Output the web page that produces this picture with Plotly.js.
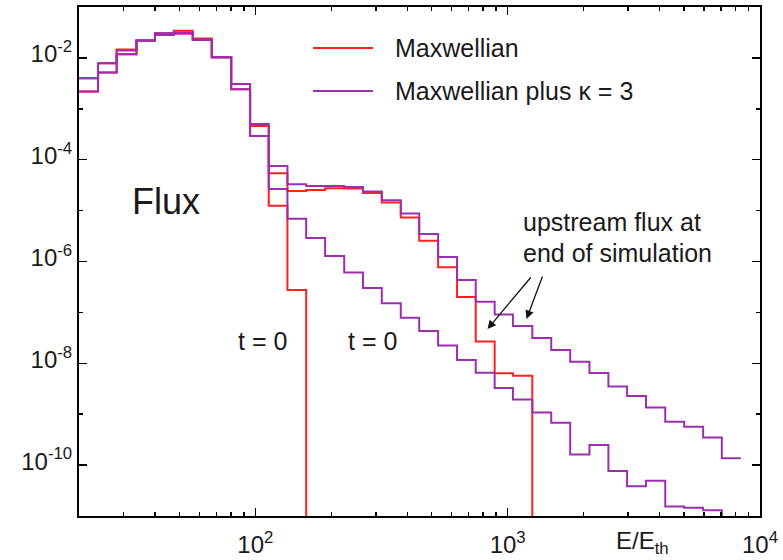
<!DOCTYPE html>
<html>
<head>
<meta charset="utf-8">
<script src="https://cdn.plot.ly/plotly-3.0.1.min.js"></script>
<style>html,body{margin:0;padding:0;background:#fff;}#chart{width:783px;height:560px;}</style>
</head>
<body>
<div id="chart"></div>
<script>
// Energy bin edges (E/E_th)
const binEdges = [20, 23.8, 28.2, 33.8, 40.0, 47.5, 56.5, 67.2, 80.2, 95.3, 113, 134, 159, 189, 225, 267, 317, 377, 446, 530, 630, 747, 888, 1049, 1252, 1488, 1769, 2109, 2507, 2973, 3534, 4212, 5006, 5952, 7058, 8389];

// Flux per bin; 0 = empty bin (drawn as a drop to the bottom of the log axis)
const maxwellianT0 = [3.99e-3, 7.87e-3, 1.47e-2, 2.19e-2, 3.06e-2, 3.40e-2, 2.41e-2, 1.03e-2, 2.43e-3, 2.93e-4, 1.25e-5, 2.75e-7, 0];
const maxwellianEnd = [2.18e-3, 5.14e-3, 1.18e-2, 2.19e-2, 2.83e-2, 3.03e-2, 2.26e-2, 1.03e-2, 3.08e-3, 4.61e-4, 5.42e-5, 2.43e-5, 2.54e-5, 2.75e-5, 2.72e-5, 2.22e-5, 1.45e-5, 7.33e-6, 2.56e-6, 7.69e-7, 2.00e-7, 2.68e-8, 6.34e-9, 5.69e-9, 0];
const kappaT0 = [3.99e-3, 7.87e-3, 1.40e-2, 2.19e-2, 3.06e-2, 3.17e-2, 2.31e-2, 1.03e-2, 2.43e-3, 2.93e-4, 2.66e-5, 6.94e-6, 2.90e-6, 1.28e-6, 6.08e-7, 3.01e-7, 1.51e-7, 7.85e-8, 4.30e-8, 2.23e-8, 1.16e-8, 6.52e-9, 3.27e-9, 1.94e-9, 1.08e-9, 6.78e-10, 1.61e-10, 2.47e-10, 7.62e-11, 3.86e-11, 4.95e-11, 1.54e-11, 1.46e-11, 1.30e-11, 9e-12];
const kappaEnd = [2.18e-3, 5.14e-3, 1.18e-2, 2.19e-2, 2.83e-2, 3.03e-2, 2.26e-2, 1.03e-2, 3.08e-3, 5.04e-4, 7.54e-5, 3.29e-5, 3.05e-5, 3.05e-5, 2.91e-5, 2.38e-5, 1.60e-5, 8.78e-6, 3.47e-6, 1.23e-6, 4.33e-7, 1.62e-7, 9.08e-8, 5.40e-8, 3.13e-8, 1.82e-8, 1.07e-8, 6.43e-9, 3.49e-9, 2.27e-9, 1.35e-9, 7.10e-10, 5.66e-10, 3.50e-10, 1.37e-10];

const seriesNames = ['Maxwellian', 'Maxwellian plus \u03ba = 3'];
const xTickVals = [100, 1000, 10000];
const xTickText = ['10<sup>2</sup>', '10<sup>3</sup>', '10<sup>4</sup>'];
const yTickVals = [1e-2, 1e-4, 1e-6, 1e-8, 1e-10];
const yTickText = ['10<sup>-2</sup>', '10<sup>-4</sup>', '10<sup>-6</sup>', '10<sup>-8</sup>', '10<sup>-10</sup>'];
const xMinorVals = [30, 40, 50, 60, 70, 80, 90, 200, 300, 400, 500, 600, 700, 800, 900, 2000, 3000, 4000, 5000, 6000, 7000, 8000, 9000];
const yMinorVals = [1e-3, 1e-5, 1e-7, 1e-9];

const RED = '#ff2020';
const PURPLE = '#9b2fae';
const FONT = 'Liberation Sans, Arial, sans-serif';
const TXT = '#1a1a1a';

function stepTrace(vals, color, name) {
  const n = vals.length;
  const x = binEdges.slice(0, n + 1);
  const y = vals.concat([vals[n - 1]]).map(v => (v > 0 ? v : 1e-30));
  return {
    x: x, y: y, type: 'scatter', mode: 'lines', name: name,
    line: {shape: 'hv', color: color, width: 2},
    showlegend: false, hoverinfo: 'skip'
  };
}

const data = [
  stepTrace(maxwellianT0, RED, seriesNames[0]),
  stepTrace(maxwellianEnd, RED, seriesNames[0]),
  stepTrace(kappaT0, PURPLE, seriesNames[1]),
  stepTrace(kappaEnd, PURPLE, seriesNames[1])
];

const W = 681, H = 509, L = 79, T = 7;
const px = v => (v - L) / W;
const py = v => (T + H - v) / H;

function label(text, x, y, size, xanchor) {
  return {text: text, x: px(x), y: py(y), xref: 'paper', yref: 'paper',
    xanchor: xanchor || 'center', yanchor: 'middle', showarrow: false,
    font: {size: size, family: FONT, color: TXT}};
}
function arrow(hx, hy, tx, ty) {
  return {text: '', x: px(hx), y: py(hy), xref: 'paper', yref: 'paper',
    ax: tx - hx, ay: ty - hy, showarrow: true, arrowhead: 2, arrowsize: 1.3,
    arrowwidth: 1.3, arrowcolor: '#111'};
}

const annotations = [
  label('Flux', 166, 201, 36),
  label('t = 0', 262.5, 341, 25),
  label('t = 0', 372.5, 341, 25),
  label('upstream flux at', 521, 222, 25, 'left'),
  label('end of simulation', 521, 253, 25, 'left'),
  label('E/E<sub>th</sub>', 614, 542, 24, 'left'),
  arrow(487.5, 329, 532, 276),
  arrow(526.5, 319, 543, 275),
  label(seriesNames[0], 393, 48, 25, 'left'),
  label(seriesNames[1], 393, 91, 25, 'left')
];

const shapes = [
  {type: 'line', xref: 'paper', yref: 'paper', x0: px(313), x1: px(373), y0: py(48), y1: py(48), line: {color: RED, width: 2}},
  {type: 'line', xref: 'paper', yref: 'paper', x0: px(313), x1: px(373), y0: py(91), y1: py(91), line: {color: PURPLE, width: 2}}
];

const axisCommon = {
  type: 'log', showgrid: false, zeroline: false,
  showline: true, linecolor: '#000', linewidth: 2, mirror: 'ticks',
  ticks: 'inside', ticklen: 8, tickwidth: 1.5, tickcolor: '#000',
  tickmode: 'array',
  tickfont: {size: 24, family: FONT, color: TXT}
};

const layout = {
  width: 783, height: 560,
  margin: {l: L, r: 783 - L - W, t: T, b: 560 - T - H, pad: 0},
  paper_bgcolor: '#fff', plot_bgcolor: '#fff',
  showlegend: false,
  xaxis: Object.assign({}, axisCommon, {
    range: [Math.log10(20), 4], tickvals: xTickVals, ticktext: xTickText,
    ticklabelstandoff: 6,
    minor: {tickmode: 'array', tickvals: xMinorVals, ticks: 'inside', ticklen: 4, tickwidth: 1.5, tickcolor: '#000', showgrid: false}
  }),
  yaxis: Object.assign({}, axisCommon, {
    range: [-11, -1], tickvals: yTickVals, ticktext: yTickText,
    ticklabelshift: -4,
    minor: {tickmode: 'array', tickvals: yMinorVals, ticks: 'inside', ticklen: 4, tickwidth: 1.5, tickcolor: '#000', showgrid: false}
  }),
  annotations: annotations,
  shapes: shapes
};

Plotly.newPlot('chart', data, layout, {displayModeBar: false, staticPlot: true});
</script>
</body>
</html>
